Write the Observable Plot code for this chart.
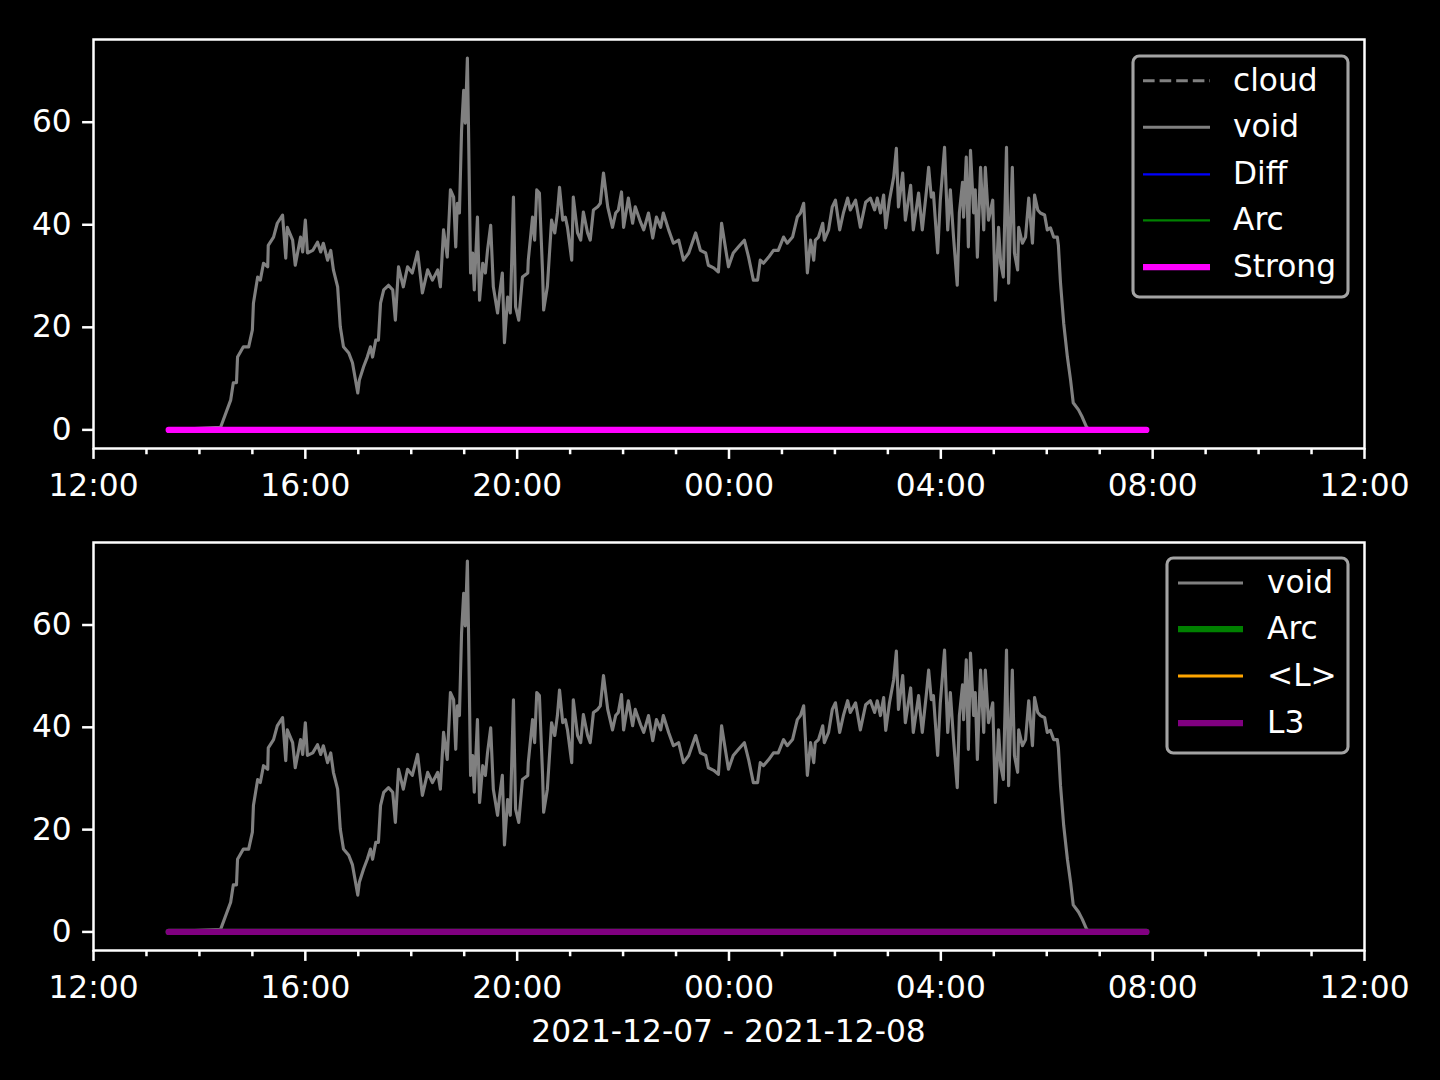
<!DOCTYPE html>
<html>
<head>
<meta charset="utf-8">
<script src="https://cdn.jsdelivr.net/npm/d3@7"></script>
<script src="https://cdn.jsdelivr.net/npm/@observablehq/plot@0.6"></script>
<style>
html, body { margin: 0; padding: 0; background: #000; }
#fig { position: relative; width: 1440px; height: 1080px; background: #000; overflow: hidden; font-family: "DejaVu Sans", sans-serif; }
#fig svg { display: block; }
.legend { position: absolute; }
#caption { position: absolute; left: 93px; width: 1271px; top: 1016px; text-align: center; color: #fff; font-size: 31.25px; line-height: 1; font-family: "DejaVu Sans", sans-serif; }
</style>
</head>
<body>
<div id="fig">
  <div id="top"></div>
  <div id="bottom"></div>
  <div id="caption">2021-12-07 - 2021-12-08</div>
</div>
<script>
// ---- data (hours after 2021-12-07 12:00 UTC) ----
const voidHours = [1.42,2.40,2.59,2.64,2.70,2.72,2.83,2.93,3.00,3.02,3.10,3.15,3.21,3.29,3.30,3.40,3.47,3.57,3.63,3.66,3.76,3.81,3.91,3.95,4.00,4.04,4.14,4.23,4.29,4.34,4.42,4.48,4.53,4.61,4.66,4.72,4.82,4.89,4.99,5.02,5.10,5.17,5.23,5.27,5.33,5.38,5.42,5.48,5.57,5.65,5.70,5.76,5.85,5.93,6.02,6.12,6.21,6.31,6.40,6.50,6.55,6.61,6.68,6.74,6.80,6.84,6.87,6.91,6.95,6.99,7.02,7.06,7.08,7.12,7.16,7.19,7.25,7.29,7.35,7.40,7.44,7.50,7.55,7.63,7.67,7.72,7.76,7.82,7.87,7.93,7.97,8.03,8.10,8.20,8.21,8.29,8.33,8.37,8.42,8.48,8.50,8.57,8.65,8.71,8.76,8.80,8.86,8.91,8.95,9.03,9.06,9.14,9.20,9.25,9.33,9.38,9.44,9.52,9.57,9.63,9.71,9.80,9.86,9.91,9.97,10.01,10.10,10.18,10.23,10.33,10.39,10.48,10.56,10.63,10.71,10.76,10.86,10.95,11.05,11.14,11.24,11.37,11.46,11.56,11.61,11.71,11.80,11.86,11.93,11.99,12.08,12.18,12.29,12.37,12.46,12.54,12.59,12.65,12.75,12.84,12.93,13.03,13.10,13.20,13.29,13.35,13.41,13.44,13.48,13.54,13.60,13.63,13.69,13.77,13.80,13.88,13.95,14.01,14.09,14.16,14.24,14.29,14.39,14.48,14.58,14.67,14.75,14.80,14.86,14.92,14.96,15.03,15.11,15.16,15.20,15.28,15.33,15.43,15.48,15.58,15.65,15.73,15.77,15.82,15.86,15.94,15.99,16.07,16.13,16.18,16.24,16.31,16.35,16.41,16.43,16.48,16.52,16.56,16.62,16.65,16.69,16.75,16.81,16.84,16.90,16.98,17.03,17.09,17.13,17.18,17.24,17.28,17.35,17.39,17.45,17.47,17.54,17.60,17.66,17.73,17.77,17.83,17.88,17.96,18.01,18.07,18.13,18.20,18.22,18.26,18.32,18.39,18.45,18.50,18.60,18.67,18.75,18.80,19.88];
const voidValues = [0,0.5,5.8,9.2,9.2,14.2,16.2,16.2,19.5,24.7,29.8,29.2,32.5,31.8,36,37.6,40.3,41.9,33.5,39.5,37,32.1,37.6,34.7,40.9,34.5,35,36.6,34.7,36.4,33.1,35,31.2,27.9,20.1,16.2,15,13.1,7.2,9.7,12.3,14.2,16.2,14.2,17.5,17.5,24.7,27.3,28.2,27.3,21.4,31.8,27.9,31.8,30.6,34.7,26.7,31.2,29.2,31.2,27.9,39,33.7,46.8,45.4,35.7,44.2,42.3,58.4,66.2,59.8,72.5,59.8,30.6,34.5,27.3,41.5,25.3,32.5,30.6,35,39.9,27.9,22.8,26.7,30.6,17,25.9,22.8,45.4,24,21.4,29.8,30.6,33.1,41.5,37,46.8,46.2,30.6,23.4,27.9,40.9,38.4,42.3,47.3,40.9,41.5,39.5,33.1,45.4,38.4,37,42.5,38.4,37,42.9,43.5,44.2,50.1,43.5,39.5,42.3,42.9,46.4,39.5,45.2,40.3,43.5,40.5,39,42.3,37.4,41.5,39.5,42.3,39,36.4,37,33.1,34.5,38.4,35,34.5,32.1,31.6,30.8,40.3,35.7,31.8,34.5,35.7,37,33.7,29.2,29.2,33.1,32.5,33.7,35,35,37.6,36.4,37.6,41.5,42.3,44.2,38.4,30.6,37,33.1,37,37.6,40.3,37,39,43.5,44.8,39,42.3,45.2,42.9,44.8,39.5,44.4,45.2,42.9,45.2,42.3,45.8,39.4,44.8,49.3,54.9,43.5,50.1,40.9,47.7,39,46.2,39,46.8,51.2,45.4,46.2,34.5,44.8,55.1,39,46.8,37.6,28.2,42.3,48.3,41.5,53.2,35.7,54.5,42.3,46.8,33.7,51.2,39,51.2,40.9,44.8,25.3,39.5,32.5,29.8,55.1,28.6,51.2,34.5,31.2,39.5,36.4,37.6,45.2,36.4,45.8,42.9,42.3,41.9,39,39.4,37.6,37.6,36,28.6,20.8,14.2,9.7,5.3,3.9,2.5,0.6,0,0];

// flat series (all at zero over the run)
const flatHours = [1.42, 19.88];
const cloudValues = [0, 0];
const diffValues = [0, 0];
const arcValues = [0, 0];
const strongValues = [0, 0];
const lMeanValues = [0, 0];
const l3Values = [0, 0];

const yTicks = [0, 20, 40, 60];
const yDomain = [-3.63, 76.13];
const topLegendLabels = ["cloud", "void", "Diff", "Arc", "Strong"];
const bottomLegendLabels = ["void", "Arc", "<L>", "L3"];

// ---- helpers ----
const t0 = Date.UTC(2021, 11, 7, 12);
const toDate = h => new Date(t0 + h * 3600e3);
const mk = (hours, values) => hours.map((h, i) => ({t: toDate(h), v: values[i]}));

const voidData = mk(voidHours, voidValues);
const majorTicks = d3.range(0, 25, 4).map(toDate);
const minorTicks = d3.range(0, 25, 1).filter(h => h % 4 !== 0).map(toDate);

const LW = 3.125; // 1pt at 225 dpi

const styles = {
  cloud: {stroke: "#808080", strokeWidth: LW, strokeDasharray: "11.6,5"},
  void: {stroke: "#808080", strokeWidth: LW},
  Diff: {stroke: "#0000ff", strokeWidth: 0.75 * LW},
  ArcThin: {stroke: "#008000", strokeWidth: 0.75 * LW},
  Strong: {stroke: "#ff00ff", strokeWidth: 2 * LW},
  ArcThick: {stroke: "#008000", strokeWidth: 2 * LW},
  L: {stroke: "#ffa500", strokeWidth: LW},
  L3: {stroke: "#800080", strokeWidth: 2 * LW}
};

function lineMark(data, st) {
  return Plot.line(data, {x: "t", y: "v", strokeLinejoin: "round", ...st});
}

function panel(lines, height, marginTop, marginBottom) {
  return Plot.plot({
    width: 1440, height, marginLeft: 93, marginRight: 76, marginTop, marginBottom,
    style: {background: "#000", color: "#fff", fontFamily: "DejaVu Sans", fontSize: "31.25px", overflow: "visible"},
    x: {type: "utc", domain: [toDate(0), toDate(24)], label: null},
    y: {domain: yDomain, label: null},
    marks: [
      ...lines,
      Plot.frame({stroke: "#fff", strokeWidth: 2.5}),
      Plot.axisX({ticks: minorTicks, tickFormat: () => "", tickSize: 6.25, strokeWidth: 2.5, stroke: "#fff", label: null}),
      Plot.axisX({ticks: majorTicks, tickFormat: d3.utcFormat("%H:%M"), tickSize: 10.9, tickPadding: 14.9, strokeWidth: 2.5, stroke: "#fff", fill: "#fff", label: null}),
      Plot.axisY({ticks: yTicks, tickSize: 10.9, tickPadding: 10.9, strokeWidth: 2.5, stroke: "#fff", fill: "#fff", label: null})
    ]
  });
}

const topPlot = panel([
  lineMark(mk(flatHours, cloudValues), styles.cloud),
  lineMark(voidData, styles.void),
  lineMark(mk(flatHours, diffValues), styles.Diff),
  lineMark(mk(flatHours, arcValues), styles.ArcThin),
  lineMark(mk(flatHours, strongValues), styles.Strong)
], 540, 39, 92);

const bottomPlot = panel([
  lineMark(voidData, styles.void),
  lineMark(mk(flatHours, arcValues), styles.ArcThick),
  lineMark(mk(flatHours, lMeanValues), styles.L),
  lineMark(mk(flatHours, l3Values), styles.L3)
], 470, 2, 60);

document.getElementById("top").appendChild(topPlot);
document.getElementById("bottom").appendChild(bottomPlot);

// ---- legends ----
function legend(left, top, w, h, rows, labels, styleList, handleX0, handleX1, textX) {
  const svg = d3.create("svg")
    .attr("class", "legend")
    .attr("width", w + 4).attr("height", h + 4)
    .style("left", left + "px").style("top", top + "px");
  svg.append("rect")
    .attr("x", 2).attr("y", 2).attr("width", w).attr("height", h)
    .attr("rx", 6.25).attr("ry", 6.25)
    .attr("fill", "rgba(0,0,0,0.8)")
    .attr("stroke", "#a3a3a3").attr("stroke-width", 3.1);
  labels.forEach((lab, i) => {
    const st = styleList[i];
    svg.append("line")
      .attr("x1", handleX0).attr("x2", handleX1)
      .attr("y1", rows[i]).attr("y2", rows[i])
      .attr("stroke", st.stroke).attr("stroke-width", st.strokeWidth)
      .attr("stroke-dasharray", st.strokeDasharray || null);
    svg.append("text")
      .attr("x", textX).attr("y", rows[i] + 10)
      .attr("fill", "#fff")
      .style("font-family", "DejaVu Sans")
      .style("font-size", "31.25px")
      .text(lab);
  });
  document.getElementById("fig").appendChild(svg.node());
}

legend(1131, 54, 215, 241, [26.7, 73.3, 120.3, 166.3, 213], topLegendLabels,
  [styles.cloud, styles.void, styles.Diff, styles.ArcThin, styles.Strong], 12, 79, 102);
legend(1165, 556, 181, 195, [27, 73, 120, 167], bottomLegendLabels,
  [styles.void, styles.ArcThick, styles.L, styles.L3], 13, 78, 102);
</script>
</body>
</html>
